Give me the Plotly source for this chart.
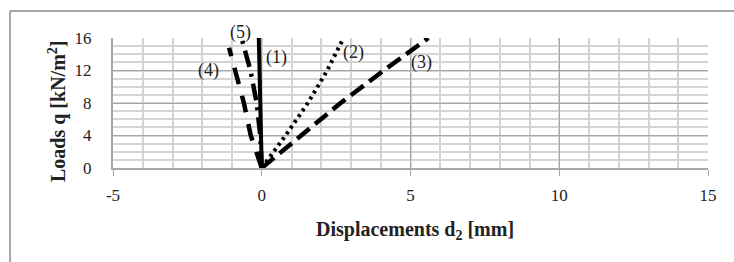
import plotly.graph_objects as go

# Loads q [kN/m2]
loads = [0, 4, 8, 12, 16]
# Displacements d2 [mm] for each curve
d_curve1 = [0, -0.03, -0.05, -0.08, -0.1]
d_curve2 = [0, 0.8, 1.55, 2.2, 2.75]
d_curve3 = [0, 1.3, 2.65, 4.1, 5.6]
loads_curve4 = [0, 4, 8, 12, 14.8]
d_curve4 = [0, -0.37, -0.6, -0.88, -1.1]
d_curve5 = [0, -0.05, -0.17, -0.38, -0.68]

curve_labels = ["(1)", "(2)", "(3)", "(4)", "(5)"]
label_x = [0.48, 3.09, 5.37, -1.8, -0.73]
label_y = [13.6, 14.2, 13.0, 12.0, 16.7]

x_ticks = [-5, 0, 5, 10, 15]
y_ticks = [0, 4, 8, 12, 16]

Y_MAX = 16
FONT = "Liberation Serif, Times New Roman, serif"

fig = go.Figure()

fig.add_trace(go.Scatter(x=d_curve3, y=loads, mode="lines",
                         line=dict(color="black", width=4.5, dash="16px,7px"), showlegend=False))
fig.add_trace(go.Scatter(x=d_curve2, y=loads, mode="lines",
                         line=dict(color="black", width=4, dash="3px,4px"), showlegend=False))
fig.add_trace(go.Scatter(x=d_curve4, y=loads_curve4, mode="lines",
                         line=dict(color="black", width=4.5, dash="17px,12px"), showlegend=False))
fig.add_trace(go.Scatter(x=d_curve5, y=loads, mode="lines",
                         line=dict(color="black", width=4.5, dash="17px,7px,3px,7px"), showlegend=False))
fig.add_trace(go.Scatter(x=d_curve1, y=loads, mode="lines",
                         line=dict(color="black", width=4), showlegend=False))

px_per_unit_y = 130 / Y_MAX
for t, lx, ly in zip(curve_labels, label_x, label_y):
    ya = min(ly, Y_MAX)
    fig.add_annotation(x=lx, y=ya, yshift=(ly - ya) * px_per_unit_y, text=t, showarrow=False,
                       xanchor="center", yanchor="middle",
                       font=dict(family=FONT, size=18, color="#222"))

# axis titles
fig.add_annotation(xref="paper", yref="paper", x=(415 - 113) / 595, y=(168 - 230) / 130,
                   xanchor="center", yanchor="middle",
                   text="<b>Displacements d<sub>2</sub> [mm]</b>", showarrow=False,
                   font=dict(family=FONT, size=20, color="#222"))
fig.add_annotation(xref="paper", yref="paper", x=(57 - 113) / 595, y=(168 - 112) / 130,
                   xanchor="center", yanchor="middle",
                   text="<b>Loads q [kN/m<sup>2</sup>]</b>", showarrow=False, textangle=-90,
                   font=dict(family=FONT, size=20, color="#222"))

# outer frame (left and top edges visible)
fx0 = (10 - 113) / 595
fy0 = (168 - 11) / 130
fig.add_shape(type="line", xref="paper", yref="paper", x0=fx0, y0=fy0, x1=fx0, y1=(168 - 264) / 130,
              line=dict(color="#a6a6a6", width=2))
fig.add_shape(type="line", xref="paper", yref="paper", x0=fx0, y0=fy0, x1=(736 - 113) / 595, y1=fy0,
              line=dict(color="#a6a6a6", width=2))

fig.update_xaxes(range=[-5, 15], tickvals=x_ticks, ticktext=[str(v) for v in x_ticks],
                 showgrid=True, gridcolor="#a6a6a6", gridwidth=1,
                 minor=dict(dtick=1, showgrid=True, gridcolor="#d4d4d4", gridwidth=2),
                 ticks="outside", ticklen=6, tickcolor="#a6a6a6", ticklabelstandoff=5,
                 showline=True, linecolor="#a6a6a6", linewidth=2,
                 zeroline=False, tickfont=dict(family=FONT, size=17, color="#222"))
fig.update_yaxes(range=[0, Y_MAX], tickvals=y_ticks, ticktext=[str(v) for v in y_ticks],
                 showgrid=True, gridcolor="#a6a6a6", gridwidth=1,
                 minor=dict(dtick=1, showgrid=True, gridcolor="#d4d4d4", gridwidth=2),
                 ticks="", showline=True, linecolor="#a6a6a6", linewidth=2, ticklabelstandoff=16,
                 zeroline=False, tickfont=dict(family=FONT, size=17, color="#222"))

fig.update_layout(width=734, height=262, margin=dict(l=113, r=26, t=38, b=94),
                  plot_bgcolor="white", paper_bgcolor="white", showlegend=False)

fig.write_html("out.html", config={"displayModeBar": False},
               post_script="document.body.style.margin='0';")
